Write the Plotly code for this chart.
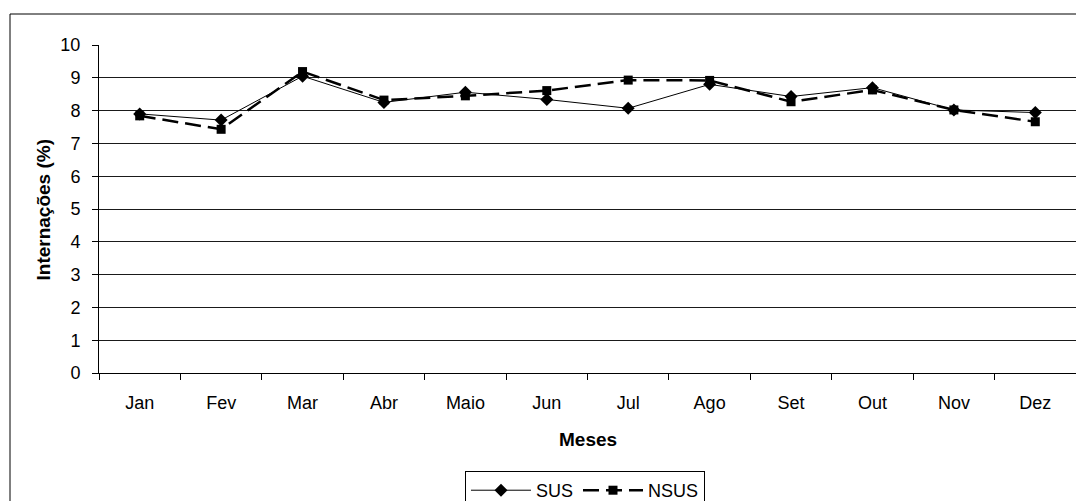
import plotly.graph_objects as go

# Monthly share of hospital admissions (%), by payer
meses = ["Jan", "Fev", "Mar", "Abr", "Maio", "Jun", "Jul", "Ago", "Set", "Out", "Nov", "Dez"]
sus = [7.90, 7.71, 9.05, 8.25, 8.56, 8.34, 8.07, 8.80, 8.43, 8.70, 8.02, 7.94]
nsus = [7.84, 7.43, 9.19, 8.32, 8.45, 8.61, 8.93, 8.92, 8.27, 8.63, 8.02, 7.66]

FONT = "Liberation Sans, Arial, sans-serif"

fig = go.Figure()
fig.add_trace(go.Scatter(
    x=meses, y=sus, name="SUS", mode="lines+markers",
    line=dict(color="black", width=1),
    marker=dict(symbol="diamond", size=10, color="black"),
))
fig.add_trace(go.Scatter(
    x=meses, y=nsus, name="NSUS", mode="lines+markers",
    line=dict(color="black", width=2.5, dash="16px,7px"),
    marker=dict(symbol="square", size=9, color="black"),
))

fig.update_layout(
    width=1076, height=501,
    margin=dict(l=99, r=0, t=45, b=128, autoexpand=False),
    paper_bgcolor="white", plot_bgcolor="white",
    font=dict(family=FONT, size=18, color="black"),
    showlegend=True,
    legend=dict(
        orientation="h", x=0.3746, y=-0.2988, xanchor="left", yanchor="top",
        bordercolor="black", borderwidth=1, itemwidth=60,
        font=dict(family=FONT, size=18, color="black"),
        tracegroupgap=0, itemclick=False,
    ),
    xaxis=dict(
        type="category", range=[-0.5, 11.5],
        showline=True, linecolor="black", linewidth=1,
        ticks="outside", ticklen=6, tickcolor="black", tickson="boundaries",
        showgrid=False, zeroline=False, ticklabelstandoff=13,
    ),
    yaxis=dict(
        range=[0, 10], dtick=1, tick0=0,
        showline=True, linecolor="black", linewidth=1,
        ticks="outside", ticklen=6, tickcolor="black",
        showgrid=True, gridcolor="#1a1a1a", gridwidth=1,
        zeroline=False, ticklabelstandoff=8,
    ),
    shapes=[
        # outer chart frame
        dict(type="rect", xref="paper", yref="paper",
             x0=(10 - 99) / 977, x1=1.05, y0=-0.5, y1=(373 - 14) / 328,
             line=dict(color="black", width=1), fillcolor="rgba(0,0,0,0)", layer="below"),
    ],
    annotations=[
        dict(text="<b>Meses</b>", xref="paper", yref="paper", x=0.5, y=(373 - 439) / 328,
             xanchor="center", yanchor="middle", showarrow=False,
             font=dict(family=FONT, size=19, color="black")),
        dict(text="<b>Internações (%)</b>", xref="paper", yref="paper",
             x=(43 - 99) / 977, y=(373 - 210.5) / 328, textangle=-90,
             xanchor="center", yanchor="middle", showarrow=False,
             font=dict(family=FONT, size=19, color="black")),
    ],
)

fig.write_html("out.html")
